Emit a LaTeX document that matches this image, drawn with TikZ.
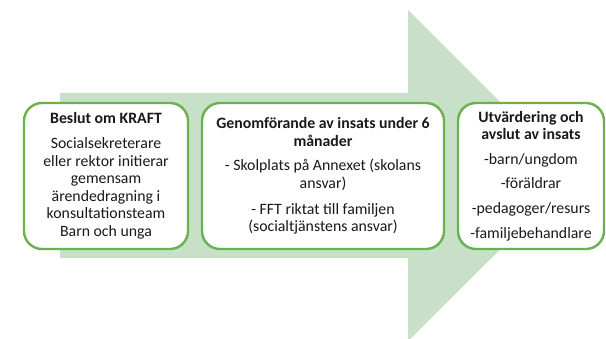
\documentclass[tikz,border=0pt]{standalone}
\usepackage{fontspec}
\setmainfont{Carlito}
\usetikzlibrary{positioning}
\definecolor{arrowfill}{RGB}{200,223,200}
\definecolor{boxline}{RGB}{106,178,78}
\tikzset{stage/.style = {draw=boxline, line width=2.4pt, fill=white, rounded corners=18pt,
    minimum height=146pt, inner sep=0pt, align=center, text=black!90,
    font=\fontsize{15.8}{17.6}\selectfont}}
\tikzset{flow/.style = {fill=arrowfill}}

\begin{document}
\begin{tikzpicture}[x=1pt, y=1pt]
  \useasboundingbox (0,0) rectangle (606,338);
  % big background arrow
  \fill[flow] (60,80) -- (408,80) -- (408,-3) -- (574,162) -- (408,328)
      -- (408,245) -- (60,245) -- cycle;
  \path (106,162) node[stage, minimum width=164pt] (decide)
        {\textbf{Beslut om KRAFT}\\[7pt]
         Socialsekreterare\\eller rektor initierar\\gemensam\\
         ärendedragning i\\konsultationsteam\\Barn och unga}
      ++(217,0) node[stage, minimum width=242pt] (carry)
        {\textbf{Genomförande av insats under 6}\\\textbf{månader}\\[7pt]
         - Skolplats på Annexet (skolans\\ansvar)\\[8pt]
         - FFT riktat till familjen\\(socialtjänstens ansvar)}
      ++(208,0) node[stage, minimum width=146pt] (evaluate)
        {\textbf{Utvärdering och}\\\textbf{avslut av insats}\\[7pt]
         -barn/ungdom\\[7pt]
         -föräldrar\\[7pt]
         -pedagoger/resurs\\[7pt]
         -familjebehandlare};
\end{tikzpicture}
\end{document}
